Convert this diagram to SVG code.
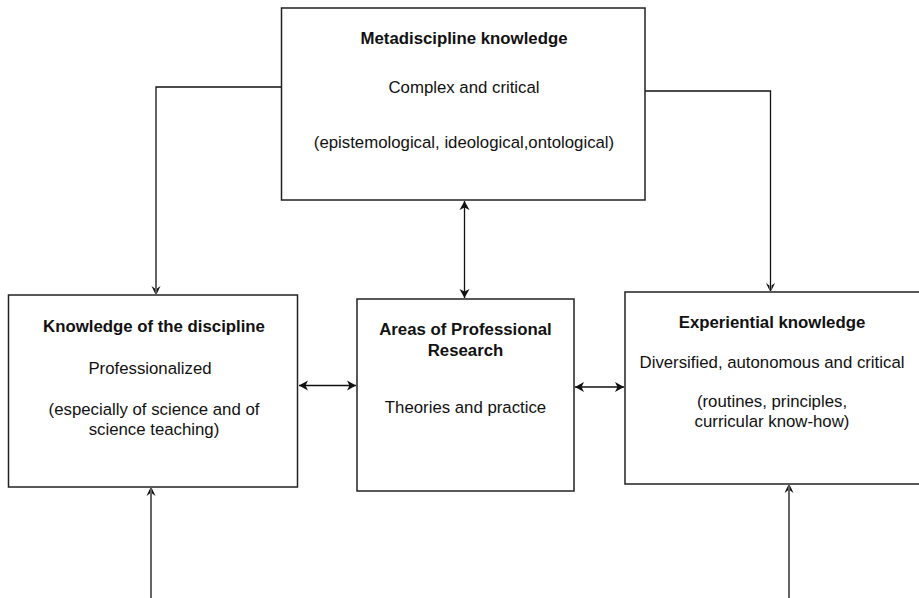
<svg xmlns="http://www.w3.org/2000/svg" width="919" height="598" viewBox="0 0 919 598">
  <style>
    .box { fill: #ffffff; stroke: #222222; stroke-width: 1.5; }
    .edge { fill: none; stroke: #111111; stroke-width: 1.3; }
    text { font-family: "Liberation Sans", Arial, Helvetica, sans-serif; font-size: 16.8px; fill: #111111; text-anchor: middle; }
    .title { font-weight: bold; }
  </style>
  <defs>
    <!-- solid notched arrowhead -->
    <marker id="arrow" markerUnits="userSpaceOnUse" viewBox="-10 -6 11 12" refX="0" refY="0" markerWidth="11" markerHeight="12" orient="auto-start-reverse">
      <path d="M0,0 L-9,-5 L-6.5,0 L-9,5 Z" fill="#111111"/>
    </marker>
    <!-- thin split arrowhead (stem shows through) -->
    <marker id="thin" markerUnits="userSpaceOnUse" viewBox="-10 -6 11 12" refX="0" refY="0" markerWidth="11" markerHeight="12" orient="auto">
      <path d="M0,-0.7 L-8,-4.5 L-5.5,-1.1 Z M0,0.7 L-8,4.5 L-5.5,1.1 Z" fill="#111111"/>
    </marker>
  </defs>

  <g id="connectors">
    <path class="edge" d="M281,87 H156 V294" marker-end="url(#thin)"/>
    <path class="edge" d="M645,91 H770.5 V291" marker-end="url(#thin)"/>
    <path class="edge" d="M464.5,201 V298" marker-start="url(#arrow)" marker-end="url(#arrow)"/>
    <path class="edge" d="M299,385.5 H356" marker-start="url(#arrow)" marker-end="url(#arrow)"/>
    <path class="edge" d="M575,387 H624" marker-start="url(#arrow)" marker-end="url(#arrow)"/>
    <path class="edge" d="M151,598 V488" marker-end="url(#thin)"/>
    <path class="edge" d="M789,598 V485" marker-end="url(#thin)"/>
  </g>

  <g id="metadiscipline">
    <rect class="box" x="281.5" y="8" width="363.5" height="192"/>
    <text class="title" x="464" y="44">Metadiscipline knowledge</text>
    <text x="464" y="93">Complex and critical</text>
    <text x="464" y="148">(epistemological, ideological,ontological)</text>
  </g>

  <g id="discipline">
    <rect class="box" x="8.5" y="295" width="289" height="192"/>
    <text class="title" x="154" y="332">Knowledge of the discipline</text>
    <text x="150" y="374">Professionalized</text>
    <text x="154" y="415">(especially of science and of</text>
    <text x="154" y="435">science teaching)</text>
  </g>

  <g id="research">
    <rect class="box" x="357" y="299" width="217" height="192"/>
    <text class="title" x="465.5" y="335">Areas of Professional</text>
    <text class="title" x="465.5" y="356">Research</text>
    <text x="465.5" y="413">Theories and practice</text>
  </g>

  <g id="experiential">
    <rect class="box" x="625" y="292" width="300" height="192"/>
    <text class="title" x="772" y="328">Experiential knowledge</text>
    <text x="772" y="368">Diversified, autonomous and critical</text>
    <text x="772" y="407">(routines, principles,</text>
    <text x="772" y="427">curricular know-how)</text>
  </g>
</svg>
